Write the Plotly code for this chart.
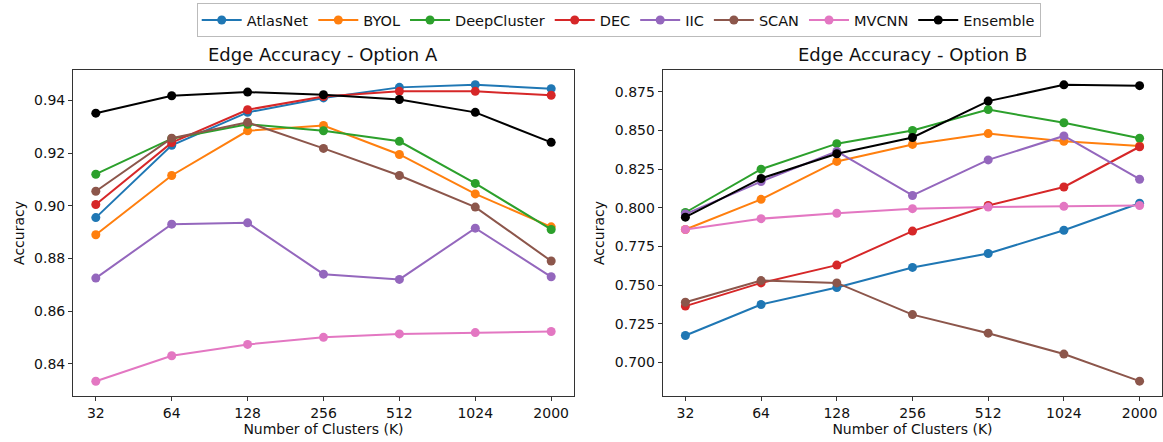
import plotly.graph_objects as go

clusters = ["32", "64", "128", "256", "512", "1024", "2000"]
methods = ["AtlasNet", "BYOL", "DeepCluster", "DEC", "IIC", "SCAN", "MVCNN", "Ensemble"]
colors = ["#1f77b4", "#ff7f0e", "#2ca02c", "#d62728", "#9467bd", "#8c564b", "#e377c2", "#000000"]

# Option A
atlasnet_a = [0.8955, 0.923, 0.9355, 0.941, 0.945, 0.946, 0.9445]
byol_a = [0.889, 0.9115, 0.9285, 0.9305, 0.9195, 0.9045, 0.892]
deepcluster_a = [0.912, 0.9255, 0.931, 0.9285, 0.9245, 0.9085, 0.891]
dec_a = [0.9005, 0.924, 0.9365, 0.9415, 0.9435, 0.9435, 0.942]
iic_a = [0.8725, 0.893, 0.8935, 0.874, 0.872, 0.8915, 0.873]
scan_a = [0.9055, 0.9257, 0.9317, 0.9218, 0.9115, 0.8995, 0.879]
mvcnn_a = [0.8333, 0.843, 0.8473, 0.850, 0.8513, 0.8518, 0.8522]
ensemble_a = [0.9352, 0.9418, 0.9432, 0.9422, 0.9404, 0.9355, 0.9241]

# Option B
atlasnet_b = [0.7175, 0.7375, 0.7485, 0.7615, 0.7705, 0.7855, 0.803]
byol_b = [0.786, 0.8055, 0.830, 0.841, 0.848, 0.843, 0.840]
deepcluster_b = [0.797, 0.825, 0.8415, 0.850, 0.8635, 0.855, 0.845]
dec_b = [0.7365, 0.7515, 0.763, 0.785, 0.8015, 0.8135, 0.8395]
iic_b = [0.796, 0.817, 0.8365, 0.808, 0.831, 0.8465, 0.8185]
scan_b = [0.739, 0.753, 0.7515, 0.731, 0.719, 0.7055, 0.688]
mvcnn_b = [0.786, 0.793, 0.7965, 0.7995, 0.8005, 0.801, 0.8015]
ensemble_b = [0.794, 0.819, 0.835, 0.8455, 0.869, 0.8795, 0.879]

series_a = [atlasnet_a, byol_a, deepcluster_a, dec_a, iic_a, scan_a, mvcnn_a, ensemble_a]
series_b = [atlasnet_b, byol_b, deepcluster_b, dec_b, iic_b, scan_b, mvcnn_b, ensemble_b]

FONT = "DejaVu Sans"
fig = go.Figure()
for name, col, ya, yb in zip(methods, colors, series_a, series_b):
    fig.add_trace(go.Scatter(x=list(range(len(clusters))), y=ya, name=name, mode="lines+markers",
                             line=dict(color=col, width=2), marker=dict(color=col, size=9),
                             xaxis="x", yaxis="y", legendgroup=name, showlegend=True))
    fig.add_trace(go.Scatter(x=list(range(len(clusters))), y=yb, name=name, mode="lines+markers",
                             line=dict(color=col, width=2), marker=dict(color=col, size=9),
                             xaxis="x2", yaxis="y2", legendgroup=name, showlegend=False))

axis_common = dict(showline=True, mirror=True, linecolor="#333", linewidth=1, ticks="outside",
                   ticklen=4, tickcolor="#333", showgrid=False, zeroline=False,
                   tickfont=dict(family=FONT, size=14, color="#111"))

fig.update_layout(
    width=1163, height=442, margin=dict(l=0, r=0, t=0, b=0),
    plot_bgcolor="white", paper_bgcolor="white",
    font=dict(family=FONT, color="#111"),
    xaxis=dict(domain=[0.0628, 0.4935], range=[-0.3, 6.3], tickvals=list(range(7)), ticktext=clusters,
               title=dict(text="Number of Clusters (K)", font=dict(family=FONT, size=14), standoff=2),
               anchor="y", **axis_common),
    yaxis=dict(domain=[0.1041, 0.8416], range=[0.8277, 0.9516], tickvals=[0.84, 0.86, 0.88, 0.90, 0.92, 0.94],
               tickformat=".2f", title=dict(text="Accuracy", font=dict(family=FONT, size=14), standoff=6),
               anchor="x", **axis_common),
    xaxis2=dict(domain=[0.5698, 0.9994], range=[-0.3, 6.3], tickvals=list(range(7)), ticktext=clusters,
                title=dict(text="Number of Clusters (K)", font=dict(family=FONT, size=14), standoff=2),
                anchor="y2", **axis_common),
    yaxis2=dict(domain=[0.1041, 0.8416], range=[0.6784, 0.8891],
                tickvals=[0.700, 0.725, 0.750, 0.775, 0.800, 0.825, 0.850, 0.875],
                tickformat=".3f", title=dict(text="Accuracy", font=dict(family=FONT, size=14), standoff=6),
                anchor="x2", **axis_common),
    legend=dict(orientation="h", x=0.532, xanchor="center", y=0.993, yanchor="top",
                bordercolor="#bbb", borderwidth=1, bgcolor="white", itemwidth=40,
                font=dict(family=FONT, size=14.5, color="#111"), tracegroupgap=0),
    annotations=[
        dict(text="Edge Accuracy - Option A", x=(0.0628 + 0.4935) / 2, y=0.8416, xref="paper", yref="paper",
             xanchor="center", yanchor="bottom", yshift=3, showarrow=False,
             font=dict(family=FONT, size=18, color="#111")),
        dict(text="Edge Accuracy - Option B", x=(0.5698 + 0.9994) / 2, y=0.8416, xref="paper", yref="paper",
             xanchor="center", yanchor="bottom", yshift=3, showarrow=False,
             font=dict(family=FONT, size=18, color="#111")),
    ],
)

fig.write_html("out.html")
